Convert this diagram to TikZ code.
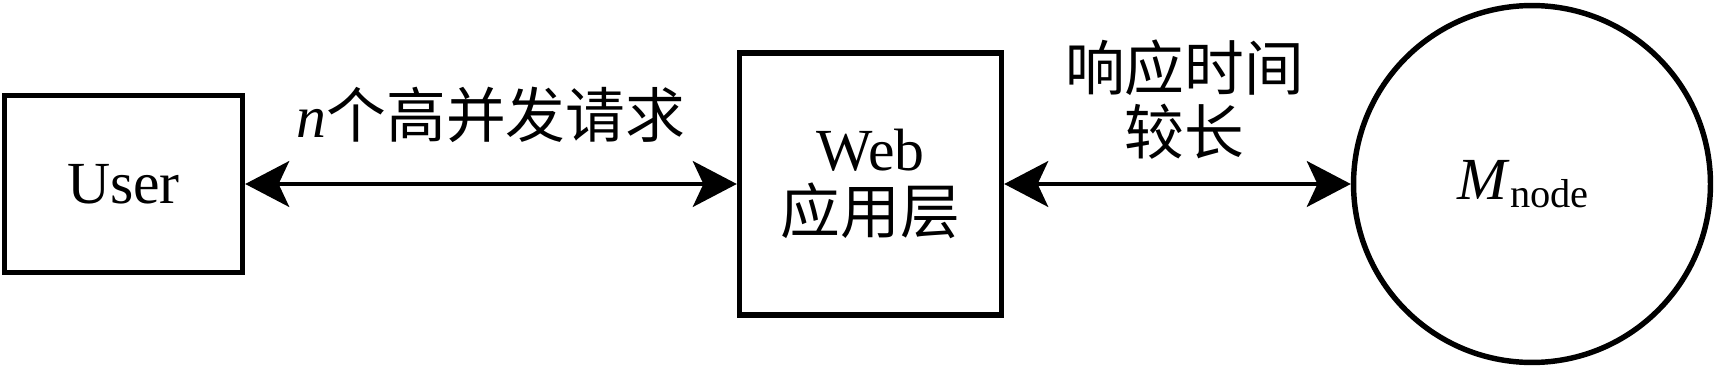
\documentclass[tikz,border=0pt]{standalone}
\usepackage{fontspec}
\setmainfont{Liberation Serif}
\newfontfamily\cjk{Noto Sans CJK SC}
\usetikzlibrary{arrows.meta}

\begin{document}
\begin{tikzpicture}[x=0.02cm,y=-0.02cm]
\tikzstyle{box}=[draw,line width=3.1pt,inner sep=0pt,align=center,font=\fontsize{34}{36}\selectfont]
\tikzstyle{link}=[{Stealth[length=25pt,width=26pt,inset=6pt]}-{Stealth[length=25pt,width=26pt,inset=6pt]},line width=2.5pt]
\tikzstyle{lbl}=[font=\fontsize{34}{36}\selectfont\cjk,align=center,inner sep=0pt]
\useasboundingbox (0,0) rectangle (1717,368);
\node[box,minimum width=4.76cm,minimum height=3.54cm] (U) at (123.5,184){User};
\node[box,minimum width=5.24cm,minimum height=5.24cm] (W) at (870.5,184){Web\\{\cjk 应用层}};
\node[box,circle,minimum size=7.14cm] (M) at (1532,184){\hspace*{-10pt}\textit{M}\raisebox{-0.3ex}{\fontsize{23}{24}\selectfont node}};
\draw[link] (U) -- node[lbl,midway,above=22pt] {{\rmfamily\itshape n}个高并发请求} (W);
\draw[link] (W) -- node[lbl,midway,above=13pt,xshift=4pt] {响应时间\\较长} (M);
\end{tikzpicture}
\end{document}
